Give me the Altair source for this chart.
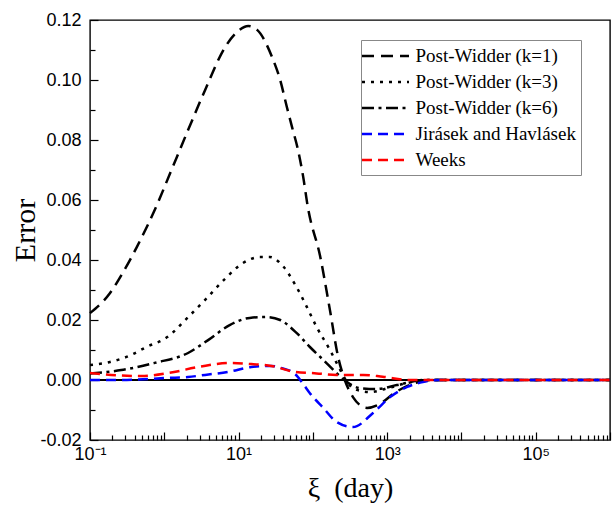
import altair as alt
import pandas as pd

# ---------------- data ----------------
SERIES = ["Post-Widder (k=1)", "Post-Widder (k=3)", "Post-Widder (k=6)",
          "Jirásek and Havlásek", "Weeks"]
COLORS = ["#000000", "#000000", "#000000", "#0000FF", "#FF0000"]
DASHES = [[12, 7], [3, 6], [12, 4.5, 3, 4.5], [10, 6], [10, 6]]

# exponents log10(xi) and errors
PW1_E = [-1, -0.73, -0.56, -0.37, -0.10, 0.08, 0.32, 0.55, 0.82, 0.98, 1.13, 1.25,
         1.45, 1.56, 1.65, 1.72, 1.80, 1.87, 1.93, 2.10, 2.23, 2.34, 2.43, 2.54,
         2.73, 2.90, 3.10, 3.30, 3.50, 3.70, 6]
PW1_Y = [0.0223, 0.029, 0.0357, 0.0443, 0.0583, 0.069, 0.0833, 0.0967, 0.111, 0.116,
         0.118, 0.1167, 0.1077, 0.100, 0.091, 0.0843, 0.0767, 0.0677, 0.058, 0.041,
         0.0233, 0.0077, 0.0, -0.0057, -0.0093, -0.008, -0.0043, -0.0017, -0.0003,
         0.0, 0.0]

PW3_E = [-1, -0.73, -0.45, -0.24, 0.04, 0.31, 0.55, 0.80, 1.06, 1.29, 1.42, 1.56,
         1.78, 1.92, 2.05, 2.23, 2.37, 2.46, 2.59, 2.77, 3.04, 3.27, 3.60, 6]
PW3_Y = [0.005, 0.006, 0.0083, 0.011, 0.0143, 0.0207, 0.0267, 0.0333, 0.039, 0.041,
         0.041, 0.039, 0.031, 0.0243, 0.0177, 0.010, 0.0033, -0.0007, -0.0033,
         -0.004, -0.0025, -0.001, 0.0, 0.0]

PW6_E = [-1, -0.58, -0.13, 0.32, 0.59, 0.88, 1.15, 1.38, 1.56, 1.78, 1.96, 2.14,
         2.32, 2.46, 2.63, 2.86, 3.13, 3.50, 6]
PW6_Y = [0.0022, 0.0033, 0.0057, 0.009, 0.0133, 0.0183, 0.0207, 0.021, 0.020,
         0.0157, 0.011, 0.0067, 0.0023, -0.0007, -0.0027, -0.003, -0.0017, 0.0, 0.0]

JH_E = [-1, -0.58, 0.05, 0.32, 0.55, 0.86, 1.17, 1.44, 1.57, 1.76, 1.86, 1.96, 2.14,
        2.32, 2.54, 2.81, 3.04, 3.27, 3.48, 3.70, 6]
JH_Y = [0.0, 0.0, 0.0007, 0.001, 0.0017, 0.0027, 0.0043, 0.0047, 0.004, 0.002,
        -0.001, -0.0044, -0.0093, -0.014, -0.0157, -0.011, -0.0057, -0.0023,
        -0.0007, 0.0, 0.0]

WK_E = [-1, -0.6, -0.31, 0.05, 0.49, 0.90, 1.17, 1.44, 1.76, 2.05, 2.32, 2.68,
        2.94, 3.30, 6]
WK_Y = [0.0023, 0.0015, 0.0013, 0.0023, 0.0045, 0.0057, 0.0053, 0.0047, 0.0027,
        0.0022, 0.0017, 0.0017, 0.0011, 0.0, 0.0]

Y_TICKS = [-0.02, 0.0, 0.02, 0.04, 0.06, 0.08, 0.10, 0.12]
Y_MINOR = [-0.01, 0.01, 0.03, 0.05, 0.07, 0.09, 0.11]
X_LABEL_VALUES = [0.1, 10, 1000, 100000]
X_LABELS = ["10⁻¹", "10¹", "10³", "10⁵"]
X_DECADES = [0.1, 1, 10, 100, 1000, 10000, 100000, 1000000]
X_MINOR = [k * 10.0 ** e for e in range(-1, 6) for k in range(2, 10)]

# ---------------- build table ----------------
rows = []
for name, es, ys in zip(SERIES, [PW1_E, PW3_E, PW6_E, JH_E, WK_E],
                        [PW1_Y, PW3_Y, PW6_Y, JH_Y, WK_Y]):
    for i, (e, y) in enumerate(zip(es, ys)):
        rows.append({"series": name, "xi": 10.0 ** e, "err": y, "order": i})
df = pd.DataFrame(rows)

xscale = alt.Scale(type="log", domain=[0.1, 1e6], nice=False)
yscale = alt.Scale(domain=[-0.02, 0.12], nice=False, zero=False)

label_expr = " : ".join(
    f"datum.value < {v * 3} ? '{t}'" for v, t in zip(X_LABEL_VALUES[:-1], X_LABELS[:-1])
) + f" : '{X_LABELS[-1]}'"

legend = alt.Legend(
    title=None, orient="none", legendX=271, legendY=20, direction="vertical",
    symbolType="M-1.5,0L3.2,0", symbolSize=400, symbolStrokeWidth=2.4,
    labelFont="Liberation Serif", labelFontSize=19, labelColor="black",
    labelOffset=27, labelLimit=400, rowPadding=4, padding=4.5,
    strokeColor="#888888", fillColor="white",
)

base = alt.Chart(df)

zero_line = base.mark_rule(color="black", strokeWidth=2.2).encode(
    y=alt.datum(0, scale=yscale, axis=None)
)

lines = base.mark_line(strokeWidth=2.5, interpolate="monotone").encode(
    x=alt.X("xi:Q", scale=xscale, axis=alt.Axis(
        values=X_LABEL_VALUES, labelExpr=label_expr, ticks=False, domain=False,
        grid=False, labelFont="Liberation Sans", labelFontSize=18, labelColor="black",
        labelPadding=5, title="ξ\u00a0\u00a0(day)", titleFont="Liberation Serif",
        titleFontSize=28, titleFontWeight="normal", titleColor="black",
        titleX=260, titleY=48, titleBaseline="middle", titleAlign="center",
        labelFlush=False, labelOverlap=False)),
    y=alt.Y("err:Q", scale=yscale, axis=alt.Axis(
        values=Y_TICKS, labelExpr="replace(format(datum.value, '.2f'), '\u2212', '-')",
        ticks=False, domain=False, grid=False, labelFont="Liberation Sans",
        labelFontSize=18, labelColor="black", labelPadding=9, title="Error",
        titleFont="Liberation Serif", titleFontSize=30, titleFontWeight="normal",
        titleColor="black", titleX=-65, titleY=210, titleAngle=270,
        titleBaseline="middle", titleAlign="center", labelFlush=False,
        labelOverlap=False)),
    color=alt.Color("series:N", scale=alt.Scale(domain=SERIES, range=COLORS),
                    sort=SERIES, legend=legend),
    strokeDash=alt.StrokeDash("series:N", scale=alt.Scale(domain=SERIES, range=DASHES),
                              sort=SERIES, legend=legend),
    order="order:Q",
)


def xticks(values, size):
    return base.mark_point(opacity=0).encode(
        x=alt.X("xi:Q", scale=xscale, axis=alt.Axis(
            orient="bottom", values=values, labels=False, domain=False, grid=False,
            ticks=True, tickSize=size, offset=-size, tickColor="black",
            tickWidth=1.2, title=None))
    )


def yticks(values, size):
    return base.mark_point(opacity=0).encode(
        y=alt.Y("err:Q", scale=yscale, axis=alt.Axis(
            orient="left", values=values, labels=False, domain=False, grid=False,
            ticks=True, tickSize=size, offset=-size, tickColor="black",
            tickWidth=1.2, title=None))
    )


chart = alt.layer(
    zero_line, lines,
    xticks(X_DECADES, 8), xticks(X_MINOR, 5),
    yticks(Y_TICKS, 8), yticks(Y_MINOR, 5),
).resolve_axis(x="independent", y="independent").properties(
    width=520, height=420,
    autosize=alt.AutoSizeParams(type="none"),
    padding={"left": 90, "top": 20, "right": 3, "bottom": 66},
    background="white",
).configure_view(stroke="black", strokeWidth=1.4)

chart.save("out.html", embed_options={"renderer": "svg", "actions": False})
